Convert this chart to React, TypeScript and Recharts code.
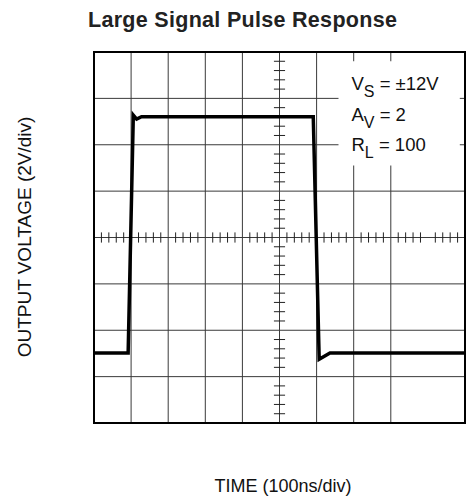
import React from "react";
import { LineChart, Line, XAxis, YAxis, CartesianGrid, ReferenceLine, ReferenceArea } from "recharts";

// scope trace, time in ns, output in volts
const timeNs = [0, 92, 106, 115, 128, 591, 607, 636, 1000];
const outputV = [-4.98, -4.98, 5.28, 5.11, 5.21, 5.21, -5.25, -4.98, -4.98];

// graticule: 100ns/div and 2V/div, minor marks at 1/5 div on the centre lines
const majorX = [0, 100, 200, 300, 400, 500, 600, 700, 800, 900, 1000];
const majorY = [-8, -6, -4, -2, 0, 2, 4, 6, 8];
const minorX = majorX.slice(0, -1).flatMap((m) => [20, 40, 60, 80].map((d) => m + d));
const minorY = majorY.slice(0, -1).flatMap((m) => [0.4, 0.8, 1.2, 1.6].map((d) => m + d));

const conditions = [
  { sym: "V", sub: "S", rest: " = ±12V" },
  { sym: "A", sub: "V", rest: " = 2" },
  { sym: "R", sub: "L", rest: " = 100" },
];

const data = timeNs.map((t, i) => ({ t, v: outputV[i] }));

const FONT = "'Liberation Sans', Arial, Helvetica, sans-serif";

const ConditionsLabel = (props: any) => {
  const { x, y } = props.viewBox;
  return (
    <g fontFamily={FONT} fontSize={18.5} fill="#111">
      {conditions.map((c, i) => (
        <text key={c.sym} x={x + 13} y={y + 29 + i * 30.5}>
          {c.sym}
          <tspan fontSize={16} dy={7}>{c.sub}</tspan>
          <tspan dy={-7}>{c.rest}</tspan>
        </text>
      ))}
    </g>
  );
};

export default function App() {
  return (
    <div style={{ position: "absolute", left: 0, top: 0, background: "#fff" }}>
      <LineChart width={466} height={500} data={data} margin={{ top: 52, right: 1, bottom: 77, left: 94 }}>
        <XAxis type="number" dataKey="t" domain={[0, 1000]} hide />
        <YAxis type="number" domain={[-8, 8]} hide />
        <CartesianGrid stroke="#3a3a3a" strokeWidth={1} verticalValues={majorX} horizontalValues={majorY} />

        {minorX.map((t) => (
          <ReferenceLine key={`mx-${t}`} segment={[{ x: t, y: -0.22 }, { x: t, y: 0.22 }]} stroke="#222" strokeWidth={1} />
        ))}
        {minorY.map((v) => (
          <ReferenceLine key={`my-${v}`} segment={[{ x: 485, y: v }, { x: 515, y: v }]} stroke="#222" strokeWidth={1} />
        ))}

        {/* white box behind the conditions text */}
        <ReferenceArea
          x1={659}
          x2={986}
          y1={3.11}
          y2={7.6}
          fill="#fff"
          fillOpacity={1}
          stroke="none"
          label={<ConditionsLabel />}
        />
        <ReferenceArea x1={0} x2={1000} y1={-8} y2={8} fill="none" stroke="#000" strokeWidth={2} />

        <Line type="linear" dataKey="v" stroke="#000" strokeWidth={3.5} dot={false} isAnimationActive={false} />

        <text x={88} y={27} fontFamily={FONT} fontWeight="bold" fontSize={21.5} letterSpacing={0.3} fill="#222">
          Large Signal Pulse Response
        </text>
        <text x={283} y={492} textAnchor="middle" fontFamily={FONT} fontSize={18} fill="#111">
          TIME (100ns/div)
        </text>
        <text x={31} y={237} textAnchor="middle" transform="rotate(-90 31 237)" fontFamily={FONT} fontSize={19} fill="#111">
          OUTPUT VOLTAGE (2V/div)
        </text>
      </LineChart>
    </div>
  );
}
